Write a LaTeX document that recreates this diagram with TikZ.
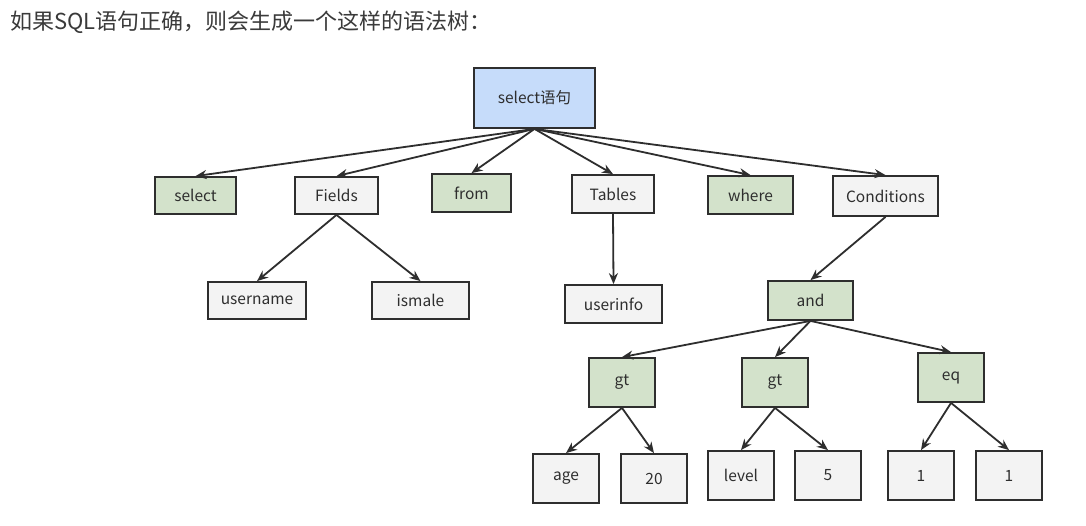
\documentclass[tikz,border=0pt]{standalone}
\usepackage{fontspec}
\setmainfont{Noto Sans CJK SC}
\usetikzlibrary{arrows.meta}
\definecolor{edgecol}{HTML}{2E2E2E}
\definecolor{greenfill}{HTML}{D3E2CB}
\definecolor{bluefill}{HTML}{C6DCFA}
\definecolor{grayfill}{HTML}{F3F3F3}
\definecolor{titlecol}{HTML}{3A3A3A}
\begin{document}
\begin{tikzpicture}[x=1pt,y=-1pt,
  box/.style={draw=edgecol,line width=1.8pt,inner sep=0pt,font=\fontsize{15.5}{17}\selectfont,text=edgecol},
  gbox/.style={box,fill=greenfill},
  wbox/.style={box,fill=grayfill},
  bbox/.style={box,fill=bluefill},
  wh/.style n args={2}{minimum width=#1pt,minimum height=#2pt},
  link/.style={draw=edgecol,line width=1.8pt,-{Stealth[length=11pt,width=9pt]}}]
\useasboundingbox (0,0) rectangle (1086,525);
\fill[white] (0,0) rectangle (1086,525);
% heading
\node[anchor=west,text=titlecol,font=\fontsize{22}{25}\selectfont,inner sep=0pt] (title) at (10,22) {如果SQL语句正确，则会生成一个这样的语法树：};
% root
\node[bbox,wh={121}{60}] (root) at (534.5,98) {select语句};
% first level
\node[gbox,wh={81}{37}] (sel) at (195.5,195.5) {select};
\node[wbox,wh={83}{37}] (fields) at (336.5,195.5) {Fields};
\node[gbox,wh={79}{38}] (from) at (471.5,193) {from};
\node[wbox,wh={82}{38}] (tables) at (613,194) {Tables};
\node[gbox,wh={85}{38}] (where) at (750.5,195) {where};
\node[wbox,wh={105}{40}] (cond) at (885.5,196) {Conditions};
% second level
\node[wbox,wh={98}{37}] (user) at (257,300.5) {username};
\node[wbox,wh={97}{37}] (ismale) at (420.5,300.5) {ismale};
\node[wbox,wh={97}{38}] (uinfo) at (613.5,304) {userinfo};
\node[gbox,wh={85}{39}] (and) at (810.5,300.5) {and};
% third level
\node[gbox,wh={66}{49}] (gta) at (622,382.5) {gt};
\node[gbox,wh={66}{49}] (gtb) at (775,382.5) {gt};
\node[gbox,wh={66}{49}] (eq) at (951,377.5) {eq};
% leaves
\node[wbox,wh={66}{49}] (age) at (566,478.5) {age};
\node[wbox,wh={66}{49}] (twenty) at (654,478.5) {20};
\node[wbox,wh={66}{49}] (level) at (741,475.5) {level};
\node[wbox,wh={66}{49}] (five) at (828,475.5) {5};
\node[wbox,wh={66}{49}] (onea) at (921,475.5) {1};
\node[wbox,wh={66}{49}] (oneb) at (1009,475.5) {1};
% connectors
\foreach \c in {sel,fields,from,tables,where,cond}
  \draw[link] (root.south) -- (\c.north);
\draw[link] (fields.south) -- (user.north);
\draw[link] (fields.south) -- (ismale.north);
\draw[link] (tables.south) -- (uinfo.north);
\draw[link] (cond.south) -- (and.north);
\draw[link] (and.south) -- (gta.north);
\draw[link] (and.south) -- (gtb.north);
\draw[link] (and.south) -- (eq.north);
\draw[link] (gta.south) -- (age.north);
\draw[link] (gta.south) -- (twenty.north);
\draw[link] (gtb.south) -- (level.north);
\draw[link] (gtb.south) -- (five.north);
\draw[link] (eq.south) -- (onea.north);
\draw[link] (eq.south) -- (oneb.north);
\end{tikzpicture}
\end{document}
